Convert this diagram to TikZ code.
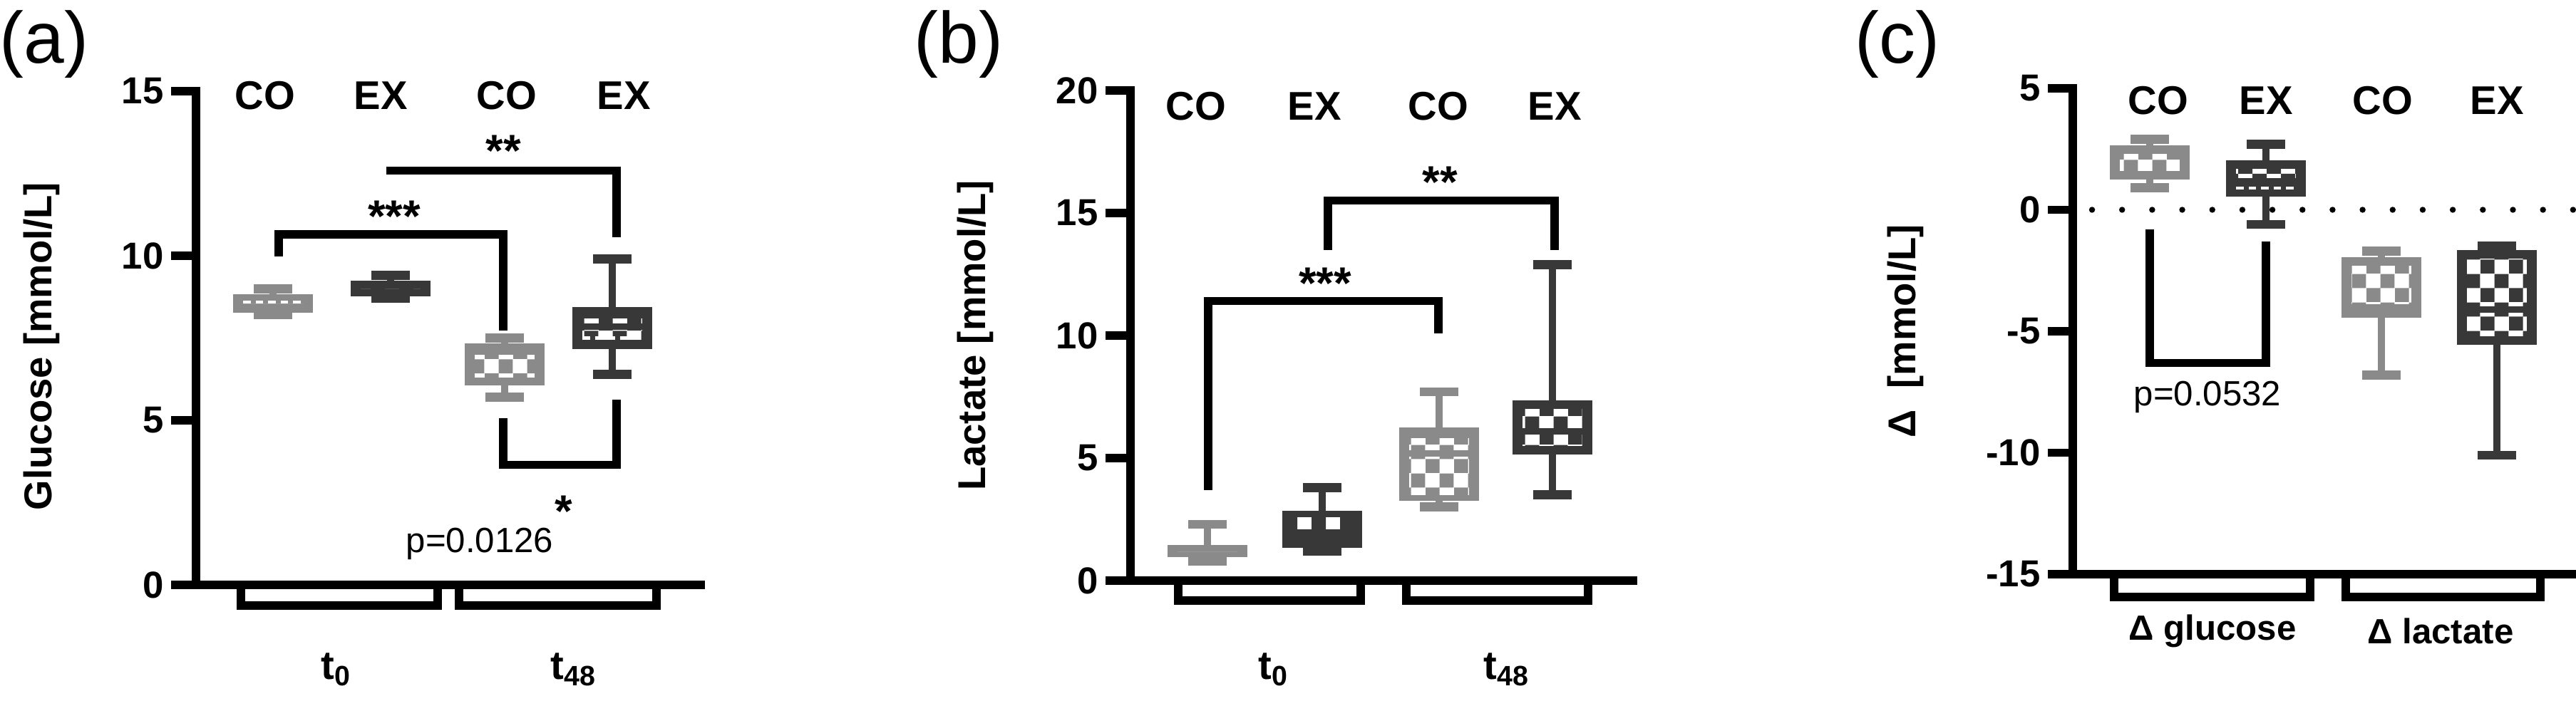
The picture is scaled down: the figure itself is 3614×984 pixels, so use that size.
\documentclass[tikz,border=0pt]{standalone}
\usepackage{fontspec}
\setmainfont{Liberation Sans}
\usetikzlibrary{patterns}
\definecolor{lg}{HTML}{8A8A8A}
\definecolor{dg}{HTML}{383838}
\tikzset{
  ax/.style={line width=3.2pt, line cap=rect},
  br/.style={line width=3.2pt},
  hdr/.style={font=\fontsize{16}{16}\selectfont\bfseries},
  tk/.style={font=\fontsize{15}{15}\selectfont\bfseries, anchor=east},
  pl/.style={font=\fontsize{29}{29}\selectfont},
  yl/.style={font=\fontsize{15.5}{15.5}\selectfont\bfseries, rotate=90},
  st/.style={font=\fontsize{18}{18}\selectfont\bfseries},
  pv/.style={font=\fontsize{14}{14}\selectfont},
}
% x, whisker lo, q1, q3, whisker hi, colour, checker lo, checker hi
\newcommand\myboxp[8]{%
  \draw[#6, line width=2.6pt] (#1,#2) -- (#1,#5);
  \draw[#6, line width=3.6pt] ({#1-27},#2) -- ({#1+27},#2) ({#1-27},#5) -- ({#1+27},#5);
  \filldraw[fill=#6, draw=#6, line width=1pt] ({#1-54},#3) rectangle ({#1+54},#4);
  \fill[white] ({#1-42},#7) rectangle ({#1+42},#8);
  \fill[pattern=checkerboard, pattern color=#6] ({#1-42},#7) rectangle ({#1+42},#8);
}
\newcommand\mymed[3]{\draw[#3, line width=2.6pt] ({#1-48},#2) -- ({#1+48},#2);}
\newcommand\mywdash[2]{\draw[white, line width=1.2pt, dash pattern=on 3pt off 2pt] ({#1-42},#2) -- ({#1+42},#2);}
\begin{document}
\begin{tikzpicture}[x=0.1mm, y=0.1mm]
\useasboundingbox (0,0) rectangle (3614,984);
% ================= panel (a)
\node[pl] (la) at (62,922) {(a)};
\node[yl] (yla) at (58,498) {Glucose [mmol/L]};
\begin{scope}[shift={(0,163)}, yscale=46.2]
  \draw[ax] (275,15) -- (275,0) -- (983,0);
  \foreach \v in {0,5,10,15} {\draw[ax] (246,\v) -- (275,\v); \node[tk] at (242,\v) {\v};}
  \myboxp{383}{8.2}{8.3}{8.8}{9.0}{lg}{8.55}{8.55}
  \mywdash{383}{8.6}
  \myboxp{548}{8.7}{8.8}{9.2}{9.4}{dg}{9}{9}
  \myboxp{708}{5.7}{6.1}{7.3}{7.5}{lg}{6.3}{7.0}
  \myboxp{859}{6.4}{7.2}{8.4}{9.9}{dg}{7.45}{8.1}
  \mymed{859}{7.85}{dg}
  \mywdash{859}{7.5}
  \draw[br] (391,9.98) -- (391,10.65) -- (706,10.65) -- (706,7.73);
  \draw[br] (542,12.58) -- (865,12.58) -- (865,10.56);
  \draw[br] (706,5.06) -- (706,3.64) -- (865,3.64) -- (865,5.63);
\end{scope}
\foreach \x/\t in {372/CO,534/EX,711/CO,875/EX} \node[hdr] at (\x,850) {\t};
\node[st] at (706,772) {**};
\node[st] at (553,680) {***};
\node[st] at (791,266) {*};
\node[pv] at (673,221) {p=0.0126};
\draw[br] (338,159) -- (338,134) -- (614,134) -- (614,159);
\draw[br] (644,159) -- (644,134) -- (921,134) -- (921,159);
\node[hdr] at (472,44) {t\textsubscript{0}};
\node[hdr] at (805,44) {t\textsubscript{48}};
% ================= panel (b)
\node[pl] (lb) at (1345,922) {(b)};
\node[yl] (ylb) at (1368,513) {Lactate [mmol/L]};
\begin{scope}[shift={(0,169)}, yscale=34.4]
  \draw[ax] (1586,20) -- (1586,0) -- (2291,0);
  \foreach \v in {0,5,10,15,20} {\draw[ax] (1557,\v) -- (1586,\v); \node[tk] at (1553,\v) {\v};}
  \myboxp{1694}{0.8}{1.0}{1.4}{2.3}{lg}{1.2}{1.2}
  \myboxp{1855}{1.2}{1.4}{2.8}{3.8}{dg}{2.1}{2.6}
  \myboxp{2019}{3.0}{3.3}{6.2}{7.7}{lg}{3.5}{5.8}
  \mymed{2019}{5.2}{lg}
  \myboxp{2178}{3.5}{5.2}{7.3}{12.9}{dg}{5.5}{7.0}
  \mymed{2178}{6.1}{dg}
  \draw[br] (1695,3.7) -- (1695,11.4) -- (2018,11.4) -- (2018,10.1);
  \draw[br] (1863,13.5) -- (1863,15.5) -- (2181,15.5) -- (2181,13.5);
\end{scope}
\foreach \x/\t in {1678/CO,1844/EX,2018/CO,2181/EX} \node[hdr] at (\x,835) {\t};
\node[st] at (1859,586) {***};
\node[st] at (2020,728) {**};
\draw[br] (1653,166) -- (1653,141) -- (1909,141) -- (1909,166);
\draw[br] (1973,166) -- (1973,141) -- (2228,141) -- (2228,166);
\node[hdr] at (1787,44) {t\textsubscript{0}};
\node[hdr] at (2114,44) {t\textsubscript{48}};
% ================= panel (c)
\node[pl] (lc) at (2662,922) {(c)};
\node[yl] (ylc) at (2673,519) {Δ\ \ [mmol/L]};
\begin{scope}[shift={(0,689.5)}, yscale=34.1]
  \draw[line width=2.4pt, dash pattern=on 0pt off 12pt, line cap=round] (2935,0) -- (3614,0);
  \draw[ax] (2908,5) -- (2908,-15) -- (3614,-15);
  \foreach \v in {5,0,-5,-10,-15} {\draw[ax] (2879,\v) -- (2908,\v); \node[tk] at (2875,\v) {\v};}
  \myboxp{3016}{0.9}{1.3}{2.6}{2.9}{lg}{1.6}{2.3}
  \myboxp{3179}{-0.6}{0.6}{2.0}{2.7}{dg}{1.3}{1.7}
  \mywdash{3179}{0.9}
  \myboxp{3341}{-6.8}{-4.4}{-2.0}{-1.7}{lg}{-3.9}{-2.3}
  \myboxp{3503}{-10.1}{-5.5}{-1.7}{-1.5}{dg}{-5.2}{-2.0}
  \mymed{3503}{-4.1}{dg}
  \draw[br] (3016,-0.8) -- (3016,-6.3) -- (3179,-6.3) -- (3179,-1.3);
\end{scope}
\foreach \x/\t in {3028/CO,3179/EX,3343/CO,3503/EX} \node[hdr] at (\x,843) {\t};
\node[pv] at (3097,427) {p=0.0532};
\draw[br] (2966,174) -- (2966,146) -- (3241,146) -- (3241,174);
\draw[br] (3291,174) -- (3291,146) -- (3564,146) -- (3564,174);
\node[hdr, font=\fontsize{14}{14}\selectfont\bfseries] at (3104,98) {Δ glucose};
\node[hdr, font=\fontsize{14}{14}\selectfont\bfseries] at (3424,98) {Δ lactate};
\end{tikzpicture}
\end{document}
